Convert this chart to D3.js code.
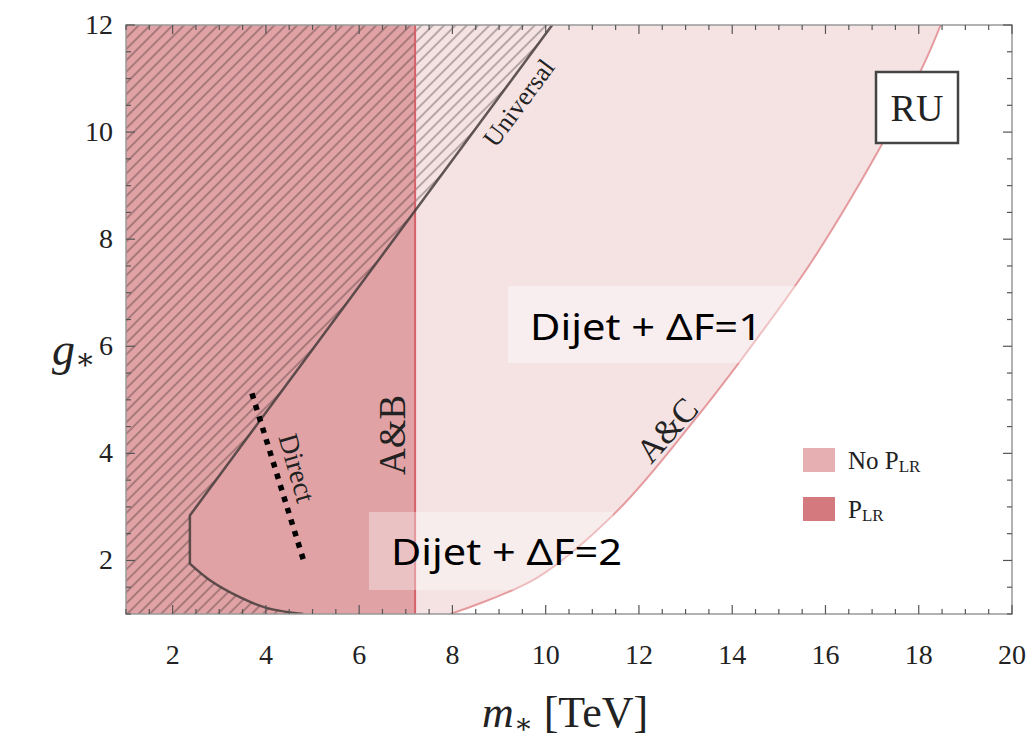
<!DOCTYPE html>
<html>
<head>
<meta charset="utf-8">
<script src="https://cdn.jsdelivr.net/npm/d3@7"></script>
<style>
  body { margin: 0; background: #fff; }
  svg { display: block; }
  .tick-label { font-family: "Liberation Serif", "DejaVu Serif", serif; font-size: 28px; fill: #222; }
  .serif { font-family: "Liberation Serif", "DejaVu Serif", serif; fill: #222; }
  .dijet { font-family: "Noto Sans", "Open Sans", sans-serif; font-size: 37px; fill: #000; }
</style>
</head>
<body>
<div id="chart"></div>
<script>
// values (m* in TeV, g*)
var xTicks = [2, 4, 6, 8, 10, 12, 14, 16, 18, 20];
var yTicks = [2, 4, 6, 8, 10, 12];

// universal (hatched) exclusion boundary, from the bottom edge upward
var universalM = [4.8, 4.03, 3.45, 2.8, 2.37, 2.37, 10.14];
var universalG = [1.0, 1.11, 1.31, 1.63, 1.94, 2.84, 12];

// P_LR bound (A&B)
var plrM = 7.2;

// No P_LR bound (A&C)
var acM = [7.95, 9.82, 11.54, 13.17, 14.45, 15.68, 17.1, 18.1, 18.47];
var acG = [1.0, 1.68, 2.93, 4.6, 6.05, 7.55, 9.6, 11.25, 12];

// direct search (dotted)
var directM = [3.7, 4.84];
var directG = [5.12, 1.91];

var legendLabels = ["No P", "P"];

var width = 1036, height = 747;
var margin = {left: 126, right: 24, top: 25, bottom: 133};

var x = d3.scaleLinear().domain([1, 20]).range([margin.left, width - margin.right]);
var y = d3.scaleLinear().domain([1, 12]).range([height - margin.bottom, margin.top]);

var svg = d3.select('#chart').append('svg')
  .attr('width', width)
  .attr('height', height);

var defs = svg.append('defs');
defs.append('clipPath').attr('id', 'plot-clip')
  .append('rect')
  .attr('x', x(1)).attr('y', y(12))
  .attr('width', x(20) - x(1)).attr('height', y(1) - y(12));

// hatch pattern for the universal region
var hatch = defs.append('pattern')
  .attr('id', 'hatch')
  .attr('patternUnits', 'userSpaceOnUse')
  .attr('width', 8).attr('height', 8)
  .attr('patternTransform', 'rotate(-45)');
hatch.append('line')
  .attr('x1', 0).attr('y1', 4).attr('x2', 8).attr('y2', 4)
  .attr('stroke', 'rgba(50,35,35,0.5)')
  .attr('stroke-width', 1.3);

var plot = svg.append('g').attr('clip-path', 'url(#plot-clip)');

var line = d3.line().x(d => x(d[0])).y(d => y(d[1]));
var smooth = d3.line().x(d => x(d[0])).y(d => y(d[1])).curve(d3.curveCatmullRom);
var acPts = acM.map((m, i) => [m, acG[i]]);
var uniPts = universalM.map((m, i) => [m, universalG[i]]);

// No P_LR region (light)
plot.append('path')
  .attr('d', 'M' + x(1) + ',' + y(1) + smooth(acPts).replace('M', 'L') +
    'L' + x(1) + ',' + y(12) + 'Z')
  .attr('fill', '#f5e3e4');

// P_LR region (darker)
plot.append('rect')
  .attr('x', x(1)).attr('y', y(12))
  .attr('width', x(plrM) - x(1)).attr('height', y(1) - y(12))
  .attr('fill', '#e0a2a5');

// hatched universal region
var uniPath = smooth(uniPts.slice(0, 5)) + line(uniPts.slice(4)).replace('M', 'L');
plot.append('path')
  .attr('d', 'M' + x(1) + ',' + y(1) + uniPath.replace('M', 'L') +
    'L' + x(1) + ',' + y(12) + 'Z')
  .attr('fill', 'url(#hatch)');

// boundaries
plot.append('path')
  .attr('d', smooth(acPts))
  .attr('fill', 'none')
  .attr('stroke', '#e59a9d')
  .attr('stroke-width', 2);

plot.append('line')
  .attr('x1', x(plrM)).attr('x2', x(plrM))
  .attr('y1', y(1)).attr('y2', y(12))
  .attr('stroke', '#d6616a')
  .attr('stroke-width', 2);

plot.append('path')
  .attr('d', uniPath)
  .attr('fill', 'none')
  .attr('stroke', 'rgba(70,60,60,0.85)')
  .attr('stroke-width', 2.5);

// direct (dotted)
plot.append('line')
  .attr('x1', x(directM[0])).attr('y1', y(directG[0]))
  .attr('x2', x(directM[1])).attr('y2', y(directG[1]))
  .attr('stroke', '#000')
  .attr('stroke-width', 5.5)
  .attr('stroke-dasharray', '5.5,6.5');

// frame and ticks
var frame = svg.append('g');
frame.append('rect')
  .attr('x', x(1)).attr('y', y(12))
  .attr('width', x(20) - x(1)).attr('height', y(1) - y(12))
  .attr('fill', 'none')
  .attr('stroke', '#999')
  .attr('stroke-width', 1.5);

var minorX = d3.range(1, 20.01, 0.5);
var minorY = d3.range(1, 12.01, 0.5);
minorX.forEach(function(v) {
  var len = (v % 2 === 0) ? 9 : 5;
  frame.append('line').attr('x1', x(v)).attr('x2', x(v)).attr('y1', y(1)).attr('y2', y(1) - len)
    .attr('stroke', '#555').attr('stroke-width', 1.2);
  frame.append('line').attr('x1', x(v)).attr('x2', x(v)).attr('y1', y(12)).attr('y2', y(12) + len)
    .attr('stroke', '#555').attr('stroke-width', 1.2);
});
minorY.forEach(function(v) {
  var len = (v % 2 === 0) ? 9 : 5;
  frame.append('line').attr('y1', y(v)).attr('y2', y(v)).attr('x1', x(1)).attr('x2', x(1) + len)
    .attr('stroke', '#555').attr('stroke-width', 1.2);
  frame.append('line').attr('y1', y(v)).attr('y2', y(v)).attr('x1', x(20)).attr('x2', x(20) - len)
    .attr('stroke', '#555').attr('stroke-width', 1.2);
});

// tick labels
svg.selectAll('.xl').data(xTicks).enter().append('text')
  .attr('class', 'tick-label')
  .attr('x', d => x(d))
  .attr('y', y(1) + 50)
  .attr('text-anchor', 'middle')
  .text(d => d);

svg.selectAll('.yl').data(yTicks).enter().append('text')
  .attr('class', 'tick-label')
  .attr('x', x(1) - 13)
  .attr('y', d => y(d) + 9)
  .attr('text-anchor', 'end')
  .text(d => d);

// axis titles
var gt = svg.append('text').attr('class', 'serif')
  .attr('x', 52).attr('y', 365).attr('font-size', 46);
gt.append('tspan').attr('font-style', 'italic').text('g');
gt.append('tspan').attr('font-size', 30).attr('dy', 4).text('∗');

var mt = svg.append('text').attr('class', 'serif')
  .attr('x', 565).attr('y', 727).attr('font-size', 44).attr('text-anchor', 'middle');
mt.append('tspan').attr('font-style', 'italic').text('m');
mt.append('tspan').attr('font-size', 28).attr('dy', 6).text('∗');
mt.append('tspan').attr('dy', -6).text(' [TeV]');

// region labels
function rotLabel(txt, cx, cy, angle, size) {
  svg.append('text').attr('class', 'serif')
    .attr('transform', 'translate(' + cx + ',' + cy + ') rotate(' + angle + ')')
    .attr('text-anchor', 'middle')
    .attr('dominant-baseline', 'central')
    .attr('font-size', size)
    .text(txt);
}
rotLabel('Universal', 519, 103, -53.5, 26);
rotLabel('Direct', 297, 468, 74, 28);
rotLabel('A&B', 392, 435, -90, 37);
rotLabel('A&C', 667, 430, -48, 34);

// RU box
svg.append('rect')
  .attr('x', 876).attr('y', 72).attr('width', 82).attr('height', 71)
  .attr('fill', '#fff').attr('stroke', '#444').attr('stroke-width', 2.5);
svg.append('text').attr('class', 'serif')
  .attr('x', 917).attr('y', 121).attr('text-anchor', 'middle')
  .attr('font-size', 38).text('RU');

// legend
var legColors = ['#e6b0b2', '#d47a7e'];
legendLabels.forEach(function(lbl, i) {
  var ly = 448 + i * 49;
  svg.append('rect').attr('x', 803).attr('y', ly).attr('width', 32).attr('height', 24)
    .attr('fill', legColors[i]);
  var t = svg.append('text').attr('class', 'serif')
    .attr('x', 848).attr('y', ly + 21).attr('font-size', 25);
  t.append('tspan').text(lbl);
  t.append('tspan').attr('font-size', 17).attr('dy', 3).text('LR');
});

// dijet annotations
svg.append('rect').attr('x', 508).attr('y', 286).attr('width', 292).attr('height', 77)
  .attr('fill', '#fff').attr('opacity', 0.4);
svg.append('text').attr('class', 'dijet')
  .attr('x', 530).attr('y', 340).attr('textLength', 232).attr('lengthAdjust', 'spacingAndGlyphs')
  .text('Dijet + ΔF=1');

svg.append('rect').attr('x', 369).attr('y', 512).attr('width', 244).attr('height', 78)
  .attr('fill', '#fff').attr('opacity', 0.35);
svg.append('text').attr('class', 'dijet')
  .attr('x', 391).attr('y', 565).attr('textLength', 231).attr('lengthAdjust', 'spacingAndGlyphs')
  .text('Dijet + ΔF=2');
</script>
</body>
</html>
